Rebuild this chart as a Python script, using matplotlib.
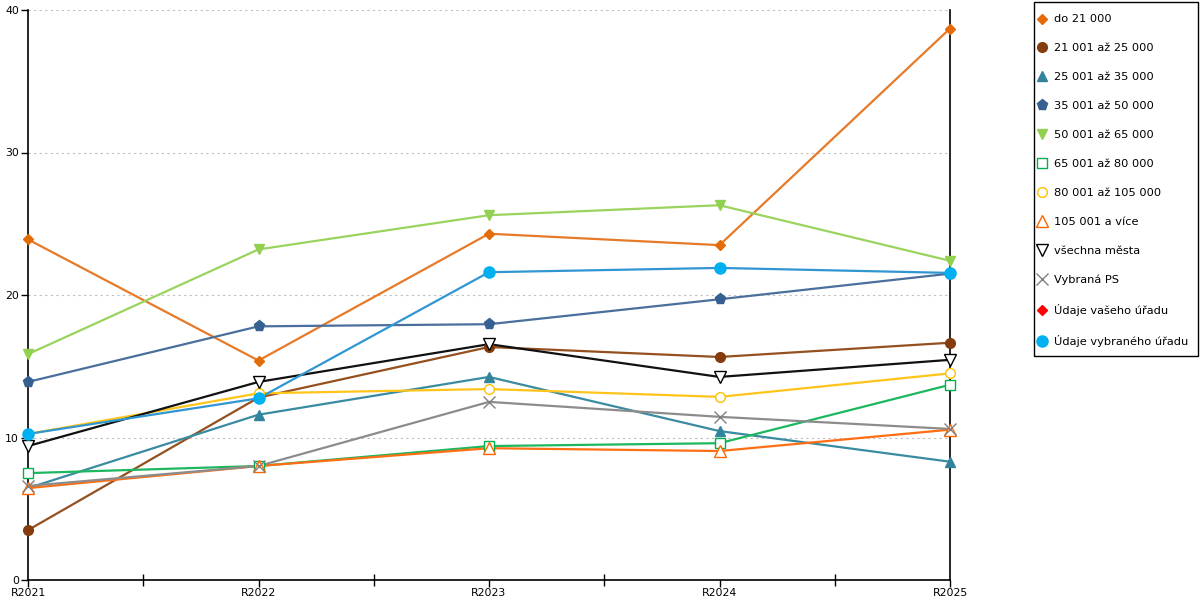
import matplotlib
matplotlib.use("Agg")
import matplotlib.pyplot as plt
from matplotlib.lines import Line2D
from matplotlib.patches import Rectangle
from matplotlib.ticker import MultipleLocator

years = ["R2021", "R2022", "R2023", "R2024", "R2025"]

do_21 = [23.9, 15.4, 24.3, 23.5, 38.7]
s21_25 = [3.5, 12.8, 16.35, 15.65, 16.65]
s25_35 = [6.45, 11.6, 14.25, 10.45, 8.3]
s35_50 = [13.9, 17.8, 17.95, 19.7, 21.5]
s50_65 = [15.85, 23.2, 25.6, 26.3, 22.4]
s65_80 = [7.5, 8.0, 9.4, 9.6, 13.7]
s80_105 = [10.25, 13.1, 13.4, 12.85, 14.5]
s105 = [6.45, 8.0, 9.25, 9.05, 10.55]
vsechna = [9.4, 13.9, 16.55, 14.25, 15.45]
vybrana_ps = [6.6, 8.0, 12.5, 11.45, 10.6]
vas_urad = []
vybrany_urad = [10.25, 12.75, 21.6, 21.9, 21.55]

labels = ["do 21 000", "21 001 až 25 000", "25 001 až 35 000", "35 001 až 50 000",
          "50 001 až 65 000", "65 001 až 80 000", "80 001 až 105 000", "105 001 a více",
          "všechna města", "Vybraná PS", "Údaje vašeho úřadu", "Údaje vybraného úřadu"]

# (values, line colour, marker colour, marker, filled, size)
series = [
    (do_21, "#E67A28", "#E36C09", "D", True, 5.5),
    (s21_25, "#94501E", "#843C0C", "o", True, 7),
    (s25_35, "#3A8BA1", "#31849B", "^", True, 7),
    (s35_50, "#4A6F9C", "#366092", "p", True, 8),
    (s50_65, "#9AD35E", "#92D050", "v", True, 7.5),
    (s65_80, "#1DB75F", "#00B050", "s", False, 7.5),
    (s80_105, "#FFC41A", "#FFC000", "o", False, 7),
    (s105, "#FF6E12", "#FF6600", "^", False, 8),
    (vsechna, "#111111", "#000000", "v", False, 8),
    (vybrana_ps, "#8C8C8C", "#808080", "x", False, 8),
    (vas_urad, "#FF0000", "#FF0000", "D", True, 5.5),
    (vybrany_urad, "#3096D2", "#00B0F0", "o", True, 8),
]

plt.rcParams["font.family"] = ["DejaVu Sans"]

fig = plt.figure(figsize=(12, 6), dpi=100)
ax = fig.add_axes([28 / 1200, 20 / 600, 922 / 1200, 570 / 600])

x = list(range(len(years)))
handles = []
for (vals, lc, mc, mk, filled, ms), lab in zip(series, labels):
    if vals:
        ax.plot(x, vals, color=lc, lw=1.6, zorder=3)
        ax.plot(x, vals, ls="none", marker=mk, ms=ms,
                markerfacecolor=mc if filled else "white",
                markeredgecolor=mc, markeredgewidth=1.0,
                clip_on=False, zorder=4)
    handles.append(Line2D([], [], ls="none", marker=mk, ms=ms,
                          markerfacecolor=mc if filled else "white",
                          markeredgecolor=mc, markeredgewidth=1.0, label=lab))

ax.set_xlim(0, 4)
ax.set_ylim(0, 40)
ax.yaxis.set_major_locator(MultipleLocator(10))
ax.set_xticks(x)
ax.set_xticklabels(years)
ax.set_xticks([0.5, 1.5, 2.5, 3.5], minor=True)
ax.grid(axis="y", color="#BFBFBF", ls=(0, (2, 3)), lw=0.8)
ax.set_axisbelow(True)

ax.spines["top"].set_visible(False)
for s in ["left", "bottom", "right"]:
    ax.spines[s].set_color("black")
    ax.spines[s].set_linewidth(1.2)

ax.tick_params(axis="x", which="major", direction="out", length=5, width=1, labelsize=7.8, pad=0.5)
ax.tick_params(axis="x", which="minor", direction="inout", length=8, width=1)
ax.tick_params(axis="y", direction="out", length=5, width=1, labelsize=7.8, pad=1.5)
ax.tick_params(axis="y", which="minor", left=False)

# legend frame drawn separately so the padding matches the original
fig.patches.append(Rectangle((1034 / 1200, 1 - 356 / 600), 164 / 1200, 354 / 600,
                             transform=fig.transFigure, fill=False,
                             edgecolor="black", lw=1.0))
fig.legend(handles=handles, loc="upper left", bbox_to_anchor=(1037 / 1200, 1 - 14.5 / 600),
           frameon=False, fontsize=8.2, handlelength=0.8, handletextpad=0.7,
           labelspacing=1.66, borderpad=0, borderaxespad=0)

fig.savefig("out.png", dpi=100)
